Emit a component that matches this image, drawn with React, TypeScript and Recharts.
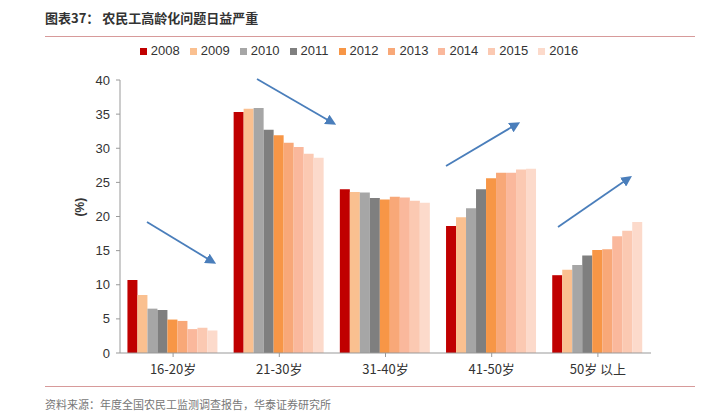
import React from 'react';
import { BarChart, Bar, XAxis, YAxis, Legend } from 'recharts';

const categories = ['16-20岁', '21-30岁', '31-40岁', '41-50岁', '50岁 以上'];
const years = ['2008', '2009', '2010', '2011', '2012', '2013', '2014', '2015', '2016'];

const v2008 = [10.7, 35.3, 24.0, 18.6, 11.4];
const v2009 = [8.5, 35.8, 23.6, 19.9, 12.2];
const v2010 = [6.5, 35.9, 23.5, 21.2, 12.9];
const v2011 = [6.3, 32.7, 22.7, 24.0, 14.3];
const v2012 = [4.9, 31.9, 22.5, 25.6, 15.1];
const v2013 = [4.7, 30.8, 22.9, 26.4, 15.2];
const v2014 = [3.5, 30.2, 22.8, 26.4, 17.1];
const v2015 = [3.7, 29.2, 22.3, 26.9, 17.9];
const v2016 = [3.3, 28.6, 22.0, 27.0, 19.2];

const yTicks = [0, 5, 10, 15, 20, 25, 30, 35, 40];

const COLORS = ['#c00000', '#fac090', '#a6a6a6', '#7f7f7f', '#f79646', '#f8a878', '#fab89c', '#fbc9b2', '#fcdacb'];

const series = [v2008, v2009, v2010, v2011, v2012, v2013, v2014, v2015, v2016];

const data = categories.map((name, i) => {
  const row: Record<string, string | number> = { name };
  years.forEach((y, k) => {
    row[y] = series[k][i];
  });
  return row;
});

const FONT = '"Liberation Sans Narrow", "Liberation Sans", Arial, "Noto Sans CJK SC", sans-serif';

// trend arrows drawn over the chart (annotation only)
const arrows = [
  [147, 222, 213, 262],
  [257, 79, 333, 123],
  [446, 166, 517, 124],
  [558, 227, 629, 178],
];

export default function App() {
  return (
    <div style={{ position: 'absolute', left: 0, top: 0, width: 728, height: 416, background: '#fff', fontFamily: FONT }}>
      <div style={{ position: 'absolute', left: 45, top: 8, fontSize: 13, fontWeight: 700, color: '#333', fontFamily: '"Noto Sans CJK SC", sans-serif' }}>
        图表37：&nbsp;农民工高龄化问题日益严重
      </div>
      <div style={{ position: 'absolute', left: 45, top: 36, width: 650, height: 1, background: '#d79a9a' }} />
      <BarChart
        width={728}
        height={416}
        data={data}
        margin={{ top: 65, right: 77, bottom: 33, left: 60 }}
        barCategoryGap="7%"
        barGap={0}
      >
        <XAxis
          dataKey="name"
          tickLine={{ stroke: '#999' }}
          axisLine={{ stroke: '#999' }}
          tick={{ fill: '#333', fontSize: 13, fontFamily: '"Noto Sans CJK SC", sans-serif' }}
          tickSize={4}
          tickMargin={8}
          interval={0}
          height={30}
        />
        <YAxis
          domain={[0, 40]}
          ticks={yTicks}
          width={60}
          tickLine={{ stroke: '#999' }}
          tickSize={4}
          tickMargin={6}
          axisLine={{ stroke: '#999' }}
          tick={{ fill: '#333', fontSize: 13 }}
          label={{ value: '(%)', angle: -90, position: 'insideLeft', offset: 20, fill: '#333', fontSize: 12, fontWeight: 700 }}
        />
        <Legend
          verticalAlign="top"
          iconType="square"
          iconSize={7}
          wrapperStyle={{ top: 43, left: 0, width: 728, fontSize: 13 }}
          formatter={(value: string) => <span style={{ color: '#333' }}>{value}</span>}
        />
        {years.map((y, k) => (
          <Bar key={y} dataKey={y} fill={COLORS[k]} isAnimationActive={false} />
        ))}
      </BarChart>
      <svg width={728} height={416} style={{ position: 'absolute', left: 0, top: 0, pointerEvents: 'none' }}>
        <defs>
          <marker id="ah" markerWidth="6" markerHeight="6" refX="4" refY="3" orient="auto" markerUnits="strokeWidth">
            <path d="M0,0 L6,3 L0,6 z" fill="#4a7ebb" />
          </marker>
        </defs>
        {arrows.map((a, i) => (
          <line key={i} x1={a[0]} y1={a[1]} x2={a[2]} y2={a[3]} stroke="#4a7ebb" strokeWidth={1.8} markerEnd="url(#ah)" />
        ))}
      </svg>
      <div style={{ position: 'absolute', left: 45, top: 386, width: 650, height: 1, background: '#d79a9a' }} />
      <div style={{ position: 'absolute', left: 45, top: 396, fontSize: 11, color: '#777', fontFamily: '"Noto Sans CJK SC", sans-serif' }}>
        资料来源：年度全国农民工监测调查报告，华泰证券研究所
      </div>
    </div>
  );
}
